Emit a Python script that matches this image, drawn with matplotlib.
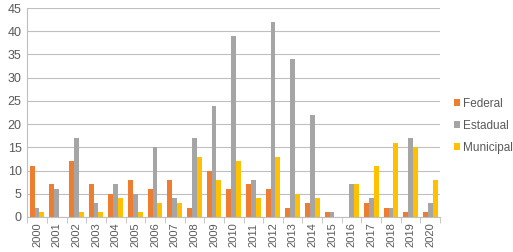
import matplotlib
matplotlib.use("Agg")
import matplotlib.pyplot as plt
import numpy as np

years = [str(y) for y in range(2000, 2021)]
federal = [11, 7, 12, 7, 5, 8, 6, 8, 2, 10, 6, 7, 6, 2, 3, 1, 0, 3, 2, 1, 1]
estadual = [2, 6, 17, 3, 7, 5, 15, 4, 17, 24, 39, 8, 42, 34, 22, 1, 7, 4, 2, 17, 3]
municipal = [1, 0, 1, 1, 4, 1, 3, 3, 13, 8, 12, 4, 13, 5, 4, 0, 7, 11, 16, 15, 8]

plt.rcParams['font.family'] = ['Liberation Sans Narrow', 'Liberation Sans', 'DejaVu Sans']
txt = "#595959"
grid = "#bfbfbf"

fig = plt.figure(figsize=(5.13, 2.52), dpi=100)
ax = fig.add_axes([0.053, 0.139, 0.805, 0.829])

x = np.arange(len(years))
w = 0.25
ax.bar(x - w, federal, w, color="#ED7D31", label="Federal")
ax.bar(x, estadual, w, color="#A5A5A5", label="Estadual")
ax.bar(x + w, municipal, w, color="#FFC000", label="Municipal")

ax.set_xlim(-0.5, len(years) - 0.5)
ax.set_ylim(0, 45)
ax.set_yticks(range(0, 46, 5))
ax.set_xticks(x)
ax.set_xticklabels(years, rotation=90)
ax.set_xticks(np.arange(-0.5, len(years), 1), minor=True)
ax.tick_params(axis="x", which="major", length=0, labelsize=8, colors=txt, pad=4)
ax.tick_params(axis="x", which="minor", length=4, color=grid)
ax.tick_params(axis="y", length=0, labelsize=9, colors=txt, pad=4)
ax.yaxis.grid(True, color=grid, linewidth=0.8)
ax.set_axisbelow(True)
for s in ["top", "right"]:
    ax.spines[s].set_visible(False)
for s in ["left", "bottom"]:
    ax.spines[s].set_color(grid)
    ax.spines[s].set_linewidth(0.8)

leg = fig.legend(loc="center left", bbox_to_anchor=(0.885, 0.50), frameon=False,
                 fontsize=8.5, handlelength=0.5, handleheight=0.5, handletextpad=0.25,
                 labelspacing=0.85, labelcolor=txt, borderpad=0, borderaxespad=0)

fig.savefig("out.png", dpi=100)
